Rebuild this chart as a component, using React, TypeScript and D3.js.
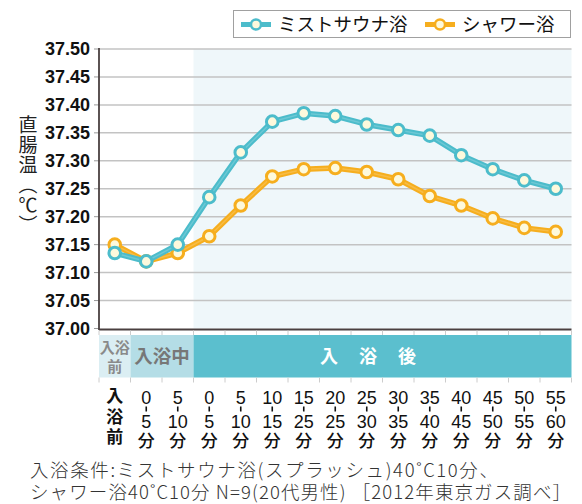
import * as d3 from 'd3';

// x categories: stacked vertical label parts
const xLabels: string[][] = [
  ['入', '浴', '前'],
  ['0', '5'], ['5', '10'],
  ['0', '5'], ['5', '10'], ['10', '15'], ['15', '25'], ['20', '25'], ['25', '30'],
  ['30', '35'], ['35', '40'], ['40', '45'], ['45', '50'], ['50', '55'], ['55', '60'],
];

const phases = [
  { label: '入浴前', span: 1 },
  { label: '入浴中', span: 2 },
  { label: '入浴後', span: 12 },
];

const yTicks = [37.0, 37.05, 37.1, 37.15, 37.2, 37.25, 37.3, 37.35, 37.4, 37.45, 37.5];

const mistSauna = [37.135, 37.12, 37.15, 37.235, 37.315, 37.37, 37.385, 37.38, 37.365, 37.355, 37.345, 37.31, 37.285, 37.265, 37.25];
const shower = [37.15, 37.12, 37.135, 37.165, 37.22, 37.272, 37.285, 37.287, 37.28, 37.267, 37.237, 37.22, 37.197, 37.18, 37.173];

const seriesNames = ['ミストサウナ浴', 'シャワー浴'];

const footnote = [
  '入浴条件:ミストサウナ浴(スプラッシュ)40˚C10分、',
  'シャワー浴40˚C10分 N=9(20代男性) ［2012年東京ガス調べ］',
];

const W = 582;
const H = 504;
const BLUE = '#4cbccb';
const ORANGE = '#f6ae1e';
const CREAM = '#fdf9dc';
const JP = '"Noto Sans CJK JP", "Noto Sans", sans-serif';
const NUM = '"Liberation Sans Narrow", "Liberation Sans", Arial, "Noto Sans CJK JP", sans-serif';

export default function App() {
  const left = 99;
  const right = 571.5;
  const top = 49;
  const bottom = 328.5;

  const x = d3.scaleBand<number>().domain(d3.range(xLabels.length)).range([left, right]);
  const cx = (i: number) => (x(i) ?? 0) + x.bandwidth() / 2;
  const y = d3.scaleLinear().domain([37, 37.5]).range([bottom, top]);

  const line = d3.line<number>().x((_, i) => cx(i)).y(d => y(d));

  const series = [
    { name: seriesNames[1], data: shower, color: ORANGE },
    { name: seriesNames[0], data: mistSauna, color: BLUE },
  ];

  const afterStart = x(3) ?? 0;

  // phase band positions
  let acc = 0;
  const phaseBoxes = phases.map((p, k) => {
    const x0 = x(acc) ?? 0;
    acc += p.span;
    const x1 = acc < xLabels.length ? (x(acc) ?? 0) : right;
    return { ...p, x0, x1, k };
  });
  const phaseFill = ['#dbeef3', '#b4dde6', '#5bbfce'];

  const bandTop = 335;
  const bandBot = 377.5;

  return (
    <svg
      width={W}
      height={H}
      style={{ position: 'absolute', left: 0, top: 0, background: '#fff' }}
    >
      {/* plot backgrounds */}
      <rect x={afterStart} y={top} width={right - afterStart} height={bottom - top} fill="#eff7fa" />

      {/* grid */}
      {yTicks.map(t => (
        <g key={t}>
          {t > 37 && (
            <line x1={left} x2={right} y1={y(t)} y2={y(t)} stroke="#c3c3c3" strokeWidth={1.5} />
          )}
          <line x1={left - 5} x2={left} y1={y(t)} y2={y(t)} stroke="#999" strokeWidth={1} />
          <text
            x={90}
            y={y(t)}
            dy="0.36em"
            textAnchor="end"
            fontFamily={NUM}
            fontWeight={700}
            fontSize={18}
            fill="#111"
          >
            {t.toFixed(2)}
          </text>
        </g>
      ))}

      {/* axes */}
      <line x1={left} x2={left} y1={top - 1} y2={bottom + 1.5} stroke="#4a4040" strokeWidth={1.8} />
      <line x1={left} x2={right} y1={bottom + 1} y2={bottom + 1} stroke="#4a4040" strokeWidth={1.8} />

      {/* y title */}
      <text
        x={28}
        y={115}
        fontFamily={JP}
        fontSize={19}
        fill="#222"
        style={{ writingMode: 'vertical-rl' as any }}
        letterSpacing={1}
      >
        直腸温（℃）
      </text>

      {/* series */}
      {series.map(s => (
        <g key={s.name}>
          <path d={line(s.data) ?? ''} fill="none" stroke={s.color} strokeWidth={5.5} strokeLinejoin="round" />
          <path d={line(s.data) ?? ''} fill="none" stroke="#fff" strokeOpacity={0.18} strokeWidth={1.5} strokeLinejoin="round" />
          {s.data.map((v, i) => (
            <circle key={i} cx={cx(i)} cy={y(v)} r={5.8} fill={CREAM} stroke={s.color} strokeWidth={3} />
          ))}
        </g>
      ))}

      {/* phase band */}
      {phaseBoxes.map(p => (
        <g key={p.label}>
          <rect x={p.x0} y={bandTop} width={p.x1 - p.x0} height={bandBot - bandTop} fill={phaseFill[p.k]} />
          {p.k === 0 && (
            <>
              <text x={(p.x0 + p.x1) / 2} y={353} textAnchor="middle" fontFamily={JP} fontWeight={700} fontSize={15} fill="#8a8a8a">
                入浴
              </text>
              <text x={(p.x0 + p.x1) / 2} y={372} textAnchor="middle" fontFamily={JP} fontWeight={700} fontSize={15} fill="#8a8a8a">
                前
              </text>
            </>
          )}
          {p.k === 1 && (
            <text
              x={(p.x0 + p.x1) / 2}
              y={(bandTop + bandBot) / 2}
              dy="0.36em"
              textAnchor="middle"
              fontFamily={JP}
              fontWeight={700}
              fontSize={18.5}
              fill="#777"
            >
              {p.label}
            </text>
          )}
          {p.k === 2 &&
            p.label.split('').map((c, j) => (
              <text
                key={j}
                x={329 + j * 39}
                y={(bandTop + bandBot) / 2}
                dy="0.36em"
                textAnchor="middle"
                fontFamily={JP}
                fontWeight={700}
                fontSize={18}
                fill="#fff"
              >
                {c}
              </text>
            ))}
        </g>
      ))}

      {/* x ticks */}
      {d3.range(xLabels.length + 1).map(i => {
        const xx = i < xLabels.length ? (x(i) ?? 0) : right;
        return (
          <g key={i}>
            <line x1={xx} x2={xx} y1={bottom + 2} y2={bandTop} stroke="#ccc" strokeWidth={1} />
            <line x1={xx} x2={xx} y1={bandBot} y2={bandBot + 5} stroke="#ccc" strokeWidth={1} />
          </g>
        );
      })}

      {/* x labels */}
      {xLabels.map((parts, i) =>
        parts.length === 3 ? (
          <g key={i}>
            {parts.map((c, j) => (
              <text key={j} x={cx(i)} y={402 + j * 20.5} textAnchor="middle" fontFamily={JP} fontWeight={700} fontSize={17} fill="#111">
                {c}
              </text>
            ))}
          </g>
        ) : (
          <g key={i}>
            <text x={cx(i)} y={403.5} textAnchor="middle" fontFamily={NUM} fontSize={18} fill="#111">
              {parts[0]}
            </text>
            <line x1={cx(i)} x2={cx(i)} y1={406.5} y2={411.5} stroke="#111" strokeWidth={1.6} />
            <text x={cx(i)} y={428} textAnchor="middle" fontFamily={NUM} fontSize={18} fill="#111">
              {parts[1]}
            </text>
            <text x={cx(i)} y={447} textAnchor="middle" fontFamily={JP} fontWeight={500} fontSize={17} fill="#111">
              分
            </text>
          </g>
        )
      )}

      {/* legend */}
      <rect x={233.5} y={10.5} width={337} height={27} fill="#fff" stroke="#a0a0a0" strokeWidth={1} />
      {[
        { name: seriesNames[0], color: BLUE, lx: 241, tx: 278 },
        { name: seriesNames[1], color: ORANGE, lx: 425, tx: 462 },
      ].map(l => (
        <g key={l.name}>
          <line x1={l.lx} x2={l.lx + 30} y1={24.5} y2={24.5} stroke={l.color} strokeWidth={5} />
          <circle cx={l.lx + 15} cy={24.5} r={5} fill={CREAM} stroke={l.color} strokeWidth={2.5} />
          <text x={l.tx} y={24.5} dy="0.36em" fontFamily={JP} fontSize={18.5} fill="#111">
            {l.name}
          </text>
        </g>
      ))}

      {/* footnote */}
      {footnote.map((t, i) => (
        <text
          key={i}
          x={30}
          y={477 + i * 22}
          fontFamily={JP}
          fontWeight={300}
          fontSize={18.5}
          fill="#333"
          textLength={i === 0 ? 468 : 541}
          lengthAdjust="spacing"
        >
          {t}
        </text>
      ))}
    </svg>
  );
}
